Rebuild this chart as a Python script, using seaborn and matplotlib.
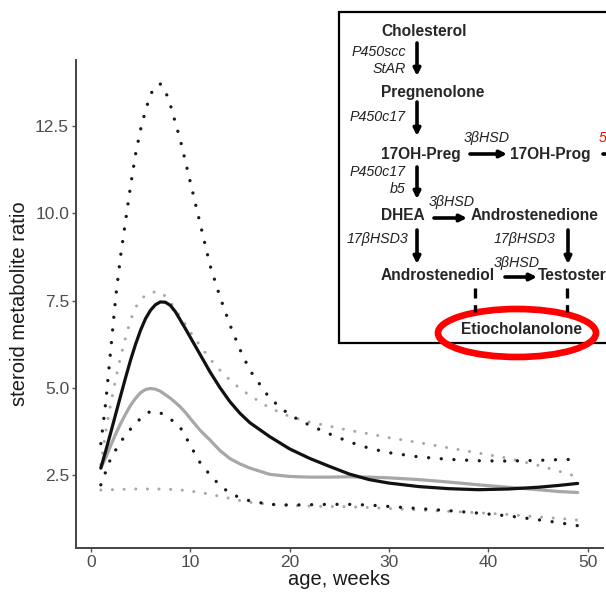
import matplotlib
matplotlib.use("Agg")
import matplotlib.pyplot as plt
from matplotlib.patches import Ellipse, Rectangle
import seaborn as sns

weeks = [1, 1.5, 2, 2.5, 3, 3.5, 4, 4.5, 5, 5.5, 6, 6.5, 7, 7.5, 8, 8.5, 9, 9.5, 10,
         11, 12, 13, 14, 15, 16, 18, 20, 22, 24, 26, 28, 30, 33, 36, 39, 42, 45, 47, 49]

# boys (black) - fit and confidence band
boys_fit = [2.7, 3.2, 3.72, 4.25, 4.78, 5.3, 5.8, 6.25, 6.65, 6.98, 7.22, 7.38, 7.46, 7.45, 7.36, 7.18, 6.94, 6.7, 6.45,
            5.95, 5.45, 5.0, 4.6, 4.27, 4.0, 3.6, 3.25, 2.98, 2.75, 2.53, 2.37, 2.27, 2.17, 2.11, 2.08, 2.1, 2.15, 2.2, 2.26]
boys_upper = [3.4, 4.6, 6.1, 7.6, 8.8, 9.8, 10.8, 11.7, 12.4, 12.95, 13.4, 13.65, 13.7, 13.5, 13.1, 12.6, 12.1, 11.5, 10.9,
              9.7, 8.5, 7.6, 6.8, 6.1, 5.5, 4.7, 4.22, 3.93, 3.68, 3.45, 3.27, 3.14, 3.02, 2.95, 2.91, 2.9, 2.92, 2.94, 2.95]
boys_lower = [2.22, 2.6, 2.98, 3.22, 3.45, 3.65, 3.82, 3.98, 4.12, 4.25, 4.32, 4.32, 4.28, 4.2, 4.1, 4.0, 3.86, 3.62, 3.35,
              2.85, 2.5, 2.2, 1.98, 1.85, 1.76, 1.66, 1.64, 1.65, 1.66, 1.66, 1.64, 1.6, 1.54, 1.48, 1.41, 1.33, 1.22, 1.14, 1.05]

# girls (grey) - fit and confidence band
girls_fit = [2.7, 3.0, 3.35, 3.68, 3.98, 4.25, 4.5, 4.7, 4.86, 4.95, 4.98, 4.96, 4.9, 4.8, 4.7, 4.58, 4.45, 4.3, 4.12,
             3.78, 3.5, 3.2, 2.97, 2.82, 2.7, 2.52, 2.46, 2.44, 2.44, 2.45, 2.44, 2.42, 2.37, 2.3, 2.22, 2.15, 2.08, 2.03, 2.0]
girls_upper = [2.8, 3.75, 4.55, 5.25, 5.9, 6.45, 6.95, 7.3, 7.52, 7.65, 7.72, 7.75, 7.74, 7.62, 7.45, 7.25, 7.03, 6.82, 6.6,
               6.2, 5.82, 5.5, 5.22, 4.98, 4.78, 4.42, 4.18, 4.02, 3.9, 3.78, 3.68, 3.57, 3.43, 3.28, 3.13, 2.98, 2.78, 2.62, 2.45]
girls_lower = [2.07, 2.07, 2.08, 2.08, 2.09, 2.09, 2.1, 2.1, 2.1, 2.1, 2.1, 2.1, 2.1, 2.1, 2.09, 2.08, 2.07, 2.06, 2.04,
               2.0, 1.95, 1.89, 1.83, 1.77, 1.72, 1.66, 1.63, 1.61, 1.6, 1.59, 1.57, 1.54, 1.5, 1.46, 1.42, 1.37, 1.3, 1.26, 1.21]

sns.set_style("white")
plt.rcParams['font.family'] = ['Liberation Sans', 'DejaVu Sans']

fig = plt.figure(figsize=(6.06, 6.05), dpi=100)
ax = fig.add_axes([76 / 606, 57 / 605, 527 / 606, 488 / 605])

dots = (0, (0.01, 3.8))
sns.lineplot(x=weeks, y=girls_upper, ax=ax, color="#a8a8a8", lw=2.2, linestyle=dots, dash_capstyle="round")
sns.lineplot(x=weeks, y=girls_lower, ax=ax, color="#a8a8a8", lw=2.2, linestyle=dots, dash_capstyle="round")
sns.lineplot(x=weeks, y=boys_upper, ax=ax, color="#1a1a1a", lw=2.4, linestyle=dots, dash_capstyle="round")
sns.lineplot(x=weeks, y=boys_lower, ax=ax, color="#1a1a1a", lw=2.4, linestyle=dots, dash_capstyle="round")
sns.lineplot(x=weeks, y=girls_fit, ax=ax, color="#a9a6a6", lw=2.3)
sns.lineplot(x=weeks, y=boys_fit, ax=ax, color="#111111", lw=2.3)

ax.set_xlim(-1.5, 51.55)
ax.set_ylim(0.41, 14.39)
ax.set_xticks([0, 10, 20, 30, 40, 50])
ax.set_yticks([2.5, 5.0, 7.5, 10.0, 12.5])
ax.set_yticklabels(["2.5", "5.0", "7.5", "10.0", "12.5"])
for s in ["top", "right"]:
    ax.spines[s].set_visible(False)
for s in ["left", "bottom"]:
    ax.spines[s].set_color("#444444")
    ax.spines[s].set_linewidth(1.4)
ax.tick_params(axis="both", length=3, width=1, color="#555555", labelcolor="#4d4d4d",
               labelsize=12.5, pad=2, left=True, bottom=True)
ax.set_xlabel("age, weeks", fontsize=14.5, color="#1a1a1a", labelpad=0)
ax.set_ylabel("steroid metabolite ratio", fontsize=14.5, color="#1a1a1a", labelpad=4)

# pathway inset drawn in pixel coordinates
ov = fig.add_axes([0, 0, 1, 1], facecolor="none")
ov.set_xlim(0, 606)
ov.set_ylim(605, 0)
ov.axis("off")

ov.add_patch(Rectangle((339, 12), 400, 331, facecolor="white", edgecolor="black", lw=1.6))

bold = dict(fontsize=11.2, fontweight="bold", va="center", ha="left")
ital = dict(fontsize=10.3, fontstyle="italic", va="center", color="#222222")

ov.text(381, 31, "Cholesterol", **bold)
ov.text(381, 92, "Pregnenolone", **bold)
ov.text(381, 154, "17OH-Preg", **bold)
ov.text(510, 154, "17OH-Prog", **bold)
ov.text(381, 215, "DHEA", **bold)
ov.text(471, 215, "Androstenedione", **bold)
ov.text(381, 276, "Androstenediol", **bold)
ov.text(538, 276, "Testosterone", **bold)
ov.text(521, 330, "Etiocholanolone", fontsize=11.2, fontweight="bold", va="center", ha="center")

ov.text(406, 52, "P450scc", ha="right", **ital)
ov.text(406, 69, "StAR", ha="right", **ital)
ov.text(406, 117, "P450c17", ha="right", **ital)
ov.text(406, 172, "P450c17", ha="right", **ital)
ov.text(406, 189, "b5", ha="right", **ital)
ov.text(408, 239, "17βHSD3", ha="right", **ital)
ov.text(555, 239, "17βHSD3", ha="right", **ital)
ov.text(487, 138, "3βHSD", ha="center", **ital)
ov.text(452, 202, "3βHSD", ha="center", **ital)
ov.text(517, 263, "3βHSD", ha="center", **ital)
ov.text(599, 138, "5", fontsize=10.3, fontstyle="italic", va="center", ha="left", color="red")

arrow = dict(arrowstyle="-|>", lw=2.6, color="black", mutation_scale=10, shrinkA=0, shrinkB=0)
for (x0, y0, x1, y1) in [(417, 43, 417, 76), (417, 102, 417, 136), (417, 167, 417, 199),
                         (417, 230, 417, 264), (568, 230, 568, 264),
                         (470, 154, 507, 154), (434, 218, 467, 218), (505, 277, 537, 277)]:
    ov.annotate("", xy=(x1, y1), xytext=(x0, y0), arrowprops=arrow)
ov.plot([603, 640], [154, 154], color="black", lw=2.6)

ov.plot([475, 475], [288, 312], color="black", lw=2.4, linestyle=(0, (3, 2)))
ov.plot([567, 567], [288, 312], color="black", lw=2.4, linestyle=(0, (3, 2)))

ov.add_patch(Ellipse((517, 333), 158, 48, facecolor="none", edgecolor="#ff0000", lw=4.8))

fig.savefig("out.png", dpi=100)
